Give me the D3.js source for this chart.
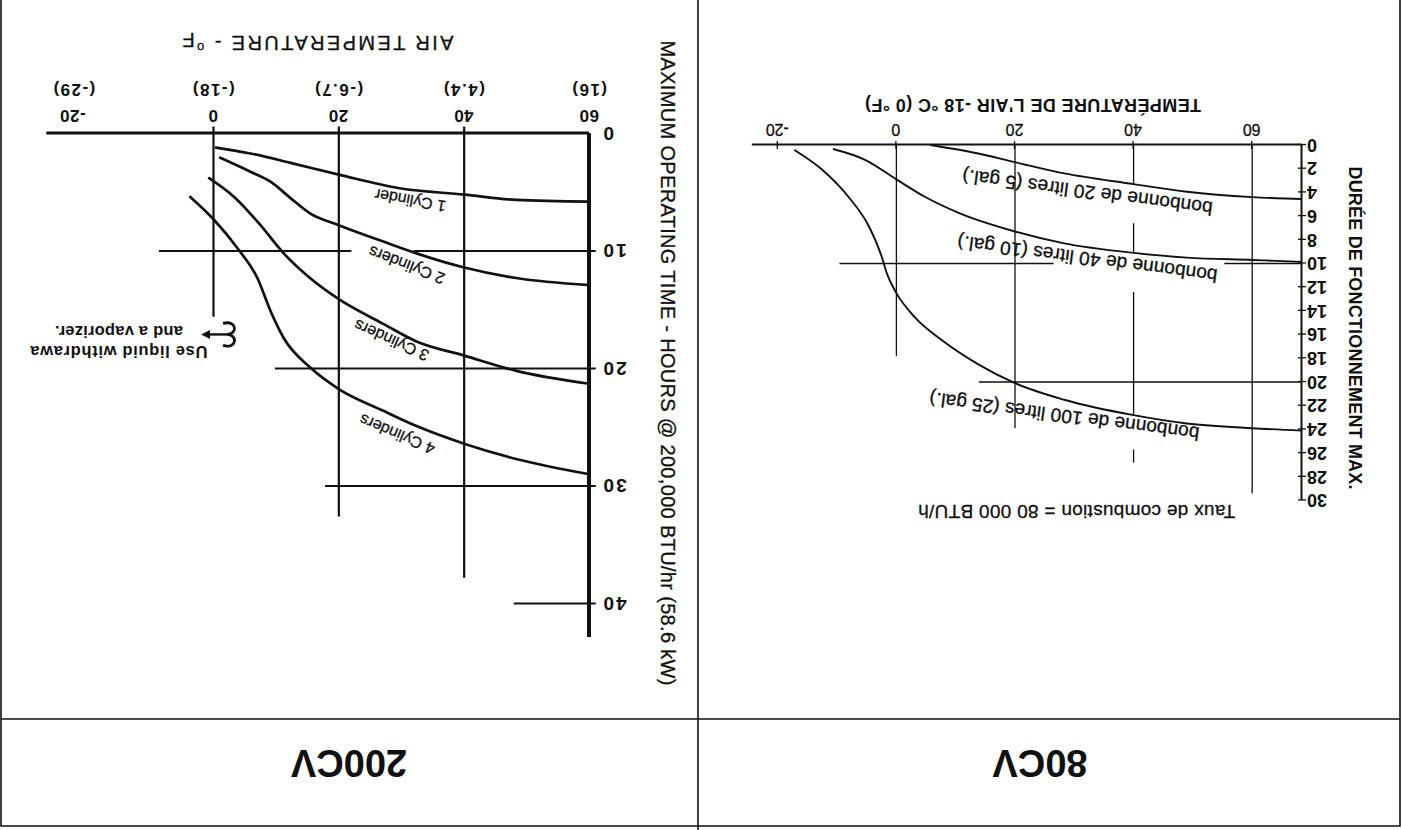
<!DOCTYPE html>
<html>
<head>
<meta charset="utf-8">
<script src="https://cdn.jsdelivr.net/npm/d3@7"></script>
<style>
  body { margin: 0; background: #fff; }
  svg { display: block; }
</style>
</head>
<body>
<div id="chart"></div>
<script>
// Data ___________________________________________________________
// 80CV (French sheet): max. operating time in hours vs air temperature °F
const tempTicks80 = [-20, 0, 20, 40, 60];
const hourTicks80 = [0, 2, 4, 6, 8, 10, 12, 14, 16, 18, 20, 22, 24, 26, 28, 30];
const tank20L = [[68.4, 4.56], [60, 4.4], [49, 3.95], [40, 3.3], [28.3, 2.4], [20, 1.45], [13.6, 0.7], [5.7, 0]];
const tank40L = [[68.4, 9.86], [60, 9.7], [49, 9.5], [40, 9.1], [28.3, 8.3], [20, 7.3], [10.7, 5.77], [4.8, 4.37], [0, 2.9], [-5.2, 1.27], [-10.7, 0.34]];
const tank100L = [[68.4, 24.1], [60, 23.9], [49, 23.5], [40, 22.8], [28.3, 21.5], [20, 20.1], [13.6, 18.45], [7.75, 16.5], [3.05, 14.5], [0, 12.5], [-1.6, 10.85], [-2.5, 9.4], [-4.6, 6.9], [-8.1, 4.37], [-12.8, 1.97], [-17.2, 0.42]];
const labels80 = ["bonbonne de 20 litres (5 gal.)", "bonbonne de 40 litres (10 gal.)", "bonbonne de 100 litres (25 gal.)"];
const labelAt80 = [[32.2, 4.0], [32.2, 9.63], [28.3, 22.9]];
// grid pieces: [value, from, to]
const grid80V = [[0, 0, 17.8], [20, 0, 23.9], [40, 0, 3.3], [40, 6.6, 9.1], [40, 12.4, 22.8], [40, 25.7, 26.8], [60, 0, 29.4]];
const grid80H = [[10, -9.6, 26.5], [10, 55.3, 68.4], [20, 13.9, 68.4]];

// 200CV: maximum operating time in hours vs air temperature °F
const tempTicks200 = [60, 40, 20, 0, -20];
const celsiusLabels200 = ["(16)", "(4.4)", "(-6.7)", "(-18)", "(-29)"];
const hourTicks200 = [0, 10, 20, 30, 40];
const cyl1 = [[60, 5.8], [48.3, 5.65], [40, 5.2], [29.7, 4.66], [20, 3.5], [12.3, 2.5], [5.9, 1.7], [0.4, 1.2]];
const cyl2 = [[60, 12.9], [48.3, 12.3], [40, 11.4], [32.4, 10.2], [27.1, 9.2], [20, 7.8], [15.4, 6.8], [12.3, 5.5], [9.1, 4.1], [5.9, 3.25], [1.06, 2.06]];
const cyl3 = [[60, 21.3], [48.3, 20.2], [40, 18.9], [32.4, 17.7], [27.1, 16.2], [20, 14.1], [15.4, 12.3], [11.2, 10.2], [7.5, 7.8], [3.3, 5.4], [-0.7, 3.8]];
const cyl4 = [[60, 29.0], [48.3, 27.7], [40, 26.4], [32.4, 24.9], [27.1, 23.6], [20, 21.75], [15.4, 19.9], [11.2, 17.4], [9.1, 15.1], [7.0, 12.3], [3.8, 9.75], [0, 7.3], [-3.7, 5.4]];
const labels200 = ["1 Cylinder", "2 Cylinders", "3 Cylinders", "4 Cylinders"];
const labelAt200 = [[31.4, 5.7], [30.8, 11.2], [28.4, 17.6], [29.3, 25.6]];
const labelTilt200 = [10, 21, 24, 23];
const grid200V = [[0, -0.6, 15.6], [20, -0.6, 32.6], [40, -0.6, 37.8]];
const grid200H = [[10, -8.7, 22], [10, 31.9, 61], [20, 9.8, 61], [30, 17.8, 61], [40, 47.9, 61]];
const noteLines = ["Use liquid withdrawa", "and a vaporizer."];

// Page ___________________________________________________________
const W = 1402, H = 830;
const FONT = '"Liberation Sans", Arial, Helvetica, sans-serif';
const INK = '#111';
const plain = d => String(d);   // hyphen minus, as printed

const svg = d3.select('#chart').append('svg')
    .attr('width', W).attr('height', H)
    .style('font-family', FONT);
svg.append('rect').attr('width', W).attr('height', H).attr('fill', '#fff');

// the sheet was scanned upside down: draw it normally, then turn it
const page = svg.append('g').attr('transform', `rotate(180, ${W / 2}, ${H / 2})`);

// frame
const frame = page.append('g').attr('stroke', INK).attr('stroke-width', 1.6).attr('fill', 'none');
frame.append('path').attr('d', 'M2,830 V4 H1401 V830');
frame.append('line').attr('x1', 2).attr('x2', 1401).attr('y1', 111).attr('y2', 111);
frame.append('line').attr('x1', 704).attr('x2', 704).attr('y1', 0).attr('y2', 830);

page.append('text').attr('x', 362).attr('y', 67).attr('dy', '0.35em')
    .attr('text-anchor', 'middle').attr('font-size', 38).attr('font-weight', 'bold')
    .attr('fill', INK).text('80CV');
page.append('text').attr('x', 1053).attr('y', 67).attr('dy', '0.35em')
    .attr('text-anchor', 'middle').attr('font-size', 38).attr('font-weight', 'bold')
    .attr('fill', INK).text('200CV');

// 80CV chart _____________________________________________________
const x80 = d3.scaleLinear().domain([68.4, -24.3]).range([100, 649.7]);
const y80 = d3.scaleLinear().domain([0, 30]).range([685, 329.5]);

const g80 = page.append('g');

g80.selectAll('line.gv').data(grid80V).enter().append('line')
    .attr('x1', d => x80(d[0])).attr('x2', d => x80(d[0]))
    .attr('y1', d => y80(d[1])).attr('y2', d => y80(d[2]))
    .attr('stroke', INK).attr('stroke-width', 1.3);
g80.selectAll('line.gh').data(grid80H).enter().append('line')
    .attr('y1', d => y80(d[0])).attr('y2', d => y80(d[0]))
    .attr('x1', d => x80(d[1])).attr('x2', d => x80(d[2]))
    .attr('stroke', INK).attr('stroke-width', 1.3);

const gx80 = g80.append('g')
    .attr('transform', `translate(0,${y80(0)})`)
    .call(d3.axisBottom(x80).tickValues(tempTicks80).tickFormat(plain)
        .tickSize(4).tickSizeOuter(0).tickPadding(6))
    .attr('font-family', FONT).attr('font-size', 16);
gx80.select('.domain').attr('stroke', INK).attr('stroke-width', 2);
gx80.selectAll('.tick line').attr('y1', -4).attr('stroke', INK).attr('stroke-width', 1.3);
gx80.selectAll('.tick text').attr('fill', INK).attr('stroke', INK).attr('stroke-width', 0.3);

const gy80 = g80.append('g')
    .attr('transform', `translate(${x80(68.4)},0)`)
    .call(d3.axisLeft(y80).tickValues(hourTicks80).tickFormat(plain)
        .tickSize(4).tickSizeOuter(0).tickPadding(1))
    .attr('font-family', FONT).attr('font-size', 18).attr('font-weight', 'bold');
gy80.select('.domain').attr('stroke', INK).attr('stroke-width', 2);
gy80.selectAll('.tick line').attr('x1', 4).attr('stroke', INK).attr('stroke-width', 1.3);
gy80.selectAll('.tick text').attr('fill', INK);

const line80 = d3.line()
    .x(d => x80(d[0])).y(d => y80(d[1]))
    .curve(d3.curveMonotoneX);
g80.selectAll('path.curve').data([tank20L, tank40L, tank100L]).enter().append('path')
    .attr('d', line80)
    .attr('fill', 'none').attr('stroke', INK).attr('stroke-width', 1.9);

g80.selectAll('text.lab').data(labels80).enter().append('text')
    .attr('transform', (d, i) => `translate(${x80(labelAt80[i][0])},${y80(labelAt80[i][1])}) rotate(7.5)`)
    .attr('dy', '0.35em').attr('text-anchor', 'middle')
    .attr('font-size', 19).attr('fill', INK).attr('stroke', INK).attr('stroke-width', 0.35)
    .attr('textLength', (d, i) => [252, 262, 272][i]).attr('lengthAdjust', 'spacing')
    .text(d => d);

g80.append('text')
    .attr('x', x80(30.4)).attr('y', y80(30.9)).attr('dy', '0.35em')
    .attr('text-anchor', 'middle').attr('font-size', 19)
    .attr('fill', INK).attr('stroke', INK).attr('stroke-width', 0.3)
    .attr('textLength', 317).attr('lengthAdjust', 'spacing')
    .text('Taux de combustion = 80 000 BTU/h');

g80.append('text')
    .attr('x', 369).attr('y', 725).attr('dy', '0.35em')
    .attr('text-anchor', 'middle').attr('font-size', 18).attr('font-weight', 'bold').attr('fill', INK)
    .attr('textLength', 336).attr('lengthAdjust', 'spacing')
    .text("TEMPÉRATURE DE L'AIR -18 °C (0 °F)");

g80.append('text')
    .attr('transform', 'translate(47,502) rotate(-90)')
    .attr('dy', '0.35em').attr('text-anchor', 'middle')
    .attr('font-size', 18).attr('font-weight', 'bold').attr('fill', INK)
    .attr('textLength', 323).attr('lengthAdjust', 'spacing')
    .text('DURÉE DE FONCTIONNEMENT MAX.');

// 200CV chart ____________________________________________________
const x200 = d3.scaleLinear().domain([60, -26.6]).range([812.5, 1355.2]);
const y200 = d3.scaleLinear().domain([0, 42.9]).range([696.5, 192.4]);

const g200 = page.append('g');

g200.selectAll('line.gv').data(grid200V).enter().append('line')
    .attr('x1', d => x200(d[0])).attr('x2', d => x200(d[0]))
    .attr('y1', d => y200(d[1])).attr('y2', d => y200(d[2]))
    .attr('stroke', INK).attr('stroke-width', 2.2);
g200.selectAll('line.gh').data(grid200H).enter().append('line')
    .attr('y1', d => y200(d[0])).attr('y2', d => y200(d[0]))
    .attr('x1', d => x200(d[1])).attr('x2', d => x200(d[2]))
    .attr('stroke', INK).attr('stroke-width', 2.2);

const gx200 = g200.append('g')
    .attr('transform', `translate(0,${y200(0)})`)
    .call(d3.axisBottom(x200).tickValues(tempTicks200).tickFormat(plain)
        .tickSize(0).tickSizeOuter(0).tickPadding(11.5))
    .attr('font-family', FONT).attr('font-size', 17).attr('font-weight', 'bold');
gx200.select('.domain').attr('stroke', INK).attr('stroke-width', 3.2);
gx200.selectAll('.tick text').attr('fill', INK).attr('letter-spacing', 0.5)
    .attr('dx', d => d === -20 ? 15 : 0);

const gc200 = g200.append('g')
    .attr('transform', `translate(0,${y200(0)})`)
    .call(d3.axisBottom(x200).tickValues(tempTicks200).tickSize(0).tickSizeOuter(0).tickPadding(37)
        .tickFormat((d, i) => celsiusLabels200[i]))
    .attr('font-family', FONT).attr('font-size', 17).attr('font-weight', 'bold');
gc200.select('.domain').remove();
gc200.selectAll('.tick text').attr('fill', INK).attr('letter-spacing', 1.5)
    .attr('dx', d => d === -20 ? 14 : 0);

const gy200 = g200.append('g')
    .attr('transform', `translate(${x200(60)},0)`)
    .call(d3.axisLeft(y200).tickValues(hourTicks200).tickFormat(plain)
        .tickSize(0).tickSizeOuter(0).tickPadding(12))
    .attr('font-family', FONT).attr('font-size', 19).attr('font-weight', 'bold');
gy200.select('.domain').attr('stroke', INK).attr('stroke-width', 4);
gy200.selectAll('.tick text').attr('fill', INK).attr('letter-spacing', 2);

const line200 = d3.line()
    .x(d => x200(d[0])).y(d => y200(d[1]))
    .curve(d3.curveMonotoneX);
g200.selectAll('path.curve').data([cyl1, cyl2, cyl3, cyl4]).enter().append('path')
    .attr('d', line200)
    .attr('fill', 'none').attr('stroke', INK).attr('stroke-width', 2.7)
    .attr('stroke-linecap', 'round');

g200.selectAll('text.lab').data(labels200).enter().append('text')
    .attr('transform', (d, i) => `translate(${x200(labelAt200[i][0])},${y200(labelAt200[i][1])}) rotate(${labelTilt200[i]})`)
    .attr('dy', '0.35em').attr('text-anchor', 'middle')
    .attr('font-size', 16).attr('fill', INK).attr('stroke', INK).attr('stroke-width', 0.3)
    .text(d => d);

// liquid withdrawal note with brace and arrow
g200.selectAll('text.note').data(noteLines).enter().append('text')
    .attr('x', x200(-15.1)).attr('y', (d, i) => y200(18.6) + i * 20).attr('dy', '0.35em')
    .attr('text-anchor', 'middle').attr('font-size', 16.5).attr('font-weight', 'bold').attr('fill', INK)
    .attr('textLength', (d, i) => [177, 128][i]).attr('lengthAdjust', 'spacing')
    .text(d => d);
const brace = g200.append('g')
    .attr('transform', `translate(${x200(2.64)},${y200(17.1)})`);
brace.append('path')
    .attr('d', 'M7,-11 C-7,-15 -8,0 3,0 C-8,0 -7,15 7,11')
    .attr('fill', 'none').attr('stroke', INK).attr('stroke-width', 2.8);
brace.append('line').attr('x1', 3).attr('x2', 21).attr('y1', 0).attr('y2', 0)
    .attr('stroke', INK).attr('stroke-width', 2.4);
brace.append('path').attr('d', 'M20,-4.5 L29,0 L20,4.5 Z').attr('fill', INK);

// titles
g200.append('text')
    .attr('x', 1084).attr('y', 787).attr('dy', '0.35em')
    .attr('text-anchor', 'middle').attr('font-size', 20)
    .attr('fill', INK).attr('stroke', INK).attr('stroke-width', 0.3)
    .attr('textLength', 271).attr('lengthAdjust', 'spacing')
    .call(t => {
        t.append('tspan').text('AIR TEMPERATURE - ');
        t.append('tspan').attr('font-size', 13).attr('dy', '-0.5em').text('o');
        t.append('tspan').attr('dy', '0.5em').text('F');
    });

g200.append('text')
    .attr('transform', 'translate(734,467) rotate(-90)')
    .attr('dy', '0.35em').attr('text-anchor', 'middle')
    .attr('font-size', 20).attr('fill', INK).attr('stroke', INK).attr('stroke-width', 0.3)
    .attr('textLength', 645).attr('lengthAdjust', 'spacing')
    .text('MAXIMUM OPERATING TIME - HOURS @ 200,000 BTU/hr (58.6 kW)');
</script>
</body>
</html>
